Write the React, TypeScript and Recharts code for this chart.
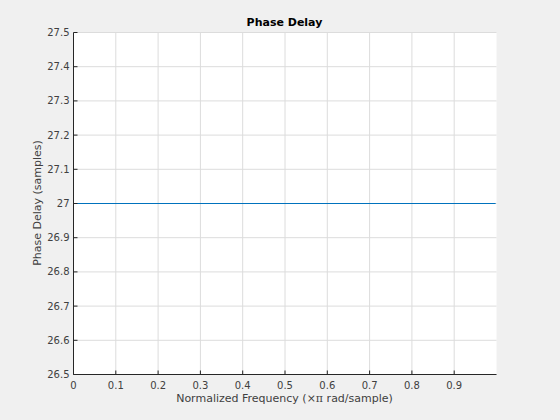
import React from "react";
import {
  LineChart, Line, XAxis, YAxis, CartesianGrid,
} from "recharts";

// normalized frequency (x pi rad/sample) and phase delay (samples)
const freq = [0, 0.998];
const phaseDelay = [27, 27];

const xTicks = [0, 0.1, 0.2, 0.3, 0.4, 0.5, 0.6, 0.7, 0.8, 0.9];
const yTicks = [26.5, 26.6, 26.7, 26.8, 26.9, 27, 27.1, 27.2, 27.3, 27.4, 27.5];

const AXIS = "#262626";
const TEXT = "#404040";
const FONT = "'DejaVu Sans', sans-serif";

const XTickBottom = ({ x, y, payload }: any) => (
  <g>
    <line x1={x} x2={x} y1={y} y2={y - 4} stroke={AXIS} />
    <text x={x} y={y + 14} textAnchor="middle" fontSize={10} fontFamily={FONT} fill={TEXT}>
      {String(payload.value)}
    </text>
  </g>
);

const XTickTop = ({ x, y }: any) => <line x1={x} x2={x} y1={y} y2={y + 4} stroke={AXIS} />;

const YTickLeft = ({ x, y, payload }: any) => (
  <g>
    <line x1={x} x2={x + 4} y1={y} y2={y} stroke={AXIS} />
    <text x={x - 4} y={y + 3.5} textAnchor="end" fontSize={10} fontFamily={FONT} fill={TEXT}>
      {String(payload.value)}
    </text>
  </g>
);

const YTickRight = ({ x, y }: any) => <line x1={x} x2={x - 4} y1={y} y2={y} stroke={AXIS} />;

export default function App() {
  const data = freq.map((f, i) => ({ f, d: phaseDelay[i] }));

  return (
    <div style={{ position: "fixed", inset: 0, background: "#f0f0f0", fontFamily: FONT }}>
      <div style={{ position: "absolute", left: 0, top: 0, width: 560, height: 420 }}>
        <LineChart width={560} height={420} data={data} margin={{ top: 32.5, right: 63.5, bottom: 0, left: 0 }}>
          <CartesianGrid stroke="#dcdcdc" fill="#ffffff" horizontalValues={yTicks} verticalValues={xTicks} />
          <XAxis
            dataKey="f" type="number" domain={[0, 1]} ticks={xTicks} height={45.5}
            tickSize={0} tickMargin={0} tick={<XTickBottom />} stroke={AXIS} interval={0}
          />
          <XAxis
            xAxisId="t" dataKey="f" type="number" orientation="top" domain={[0, 1]} ticks={xTicks}
            height={0} tickSize={0} tickMargin={0} tick={<XTickTop />} stroke={AXIS} interval={0}
          />
          <YAxis
            type="number" domain={[26.5, 27.5]} ticks={yTicks} width={73.5}
            tickSize={0} tickMargin={0} tick={<YTickLeft />} stroke={AXIS} interval={0}
          />
          <YAxis
            yAxisId="r" type="number" orientation="right" domain={[26.5, 27.5]} ticks={yTicks}
            width={0} tickSize={0} tickMargin={0} tick={<YTickRight />} stroke={AXIS} interval={0}
          />
          <Line dataKey="d" stroke="#0072bd" strokeWidth={1} dot={false} isAnimationActive={false} />
        </LineChart>
        <div style={{ position: "absolute", left: 73, width: 423, top: 16, textAlign: "center", fontSize: 11, fontWeight: "bold", color: "#000" }}>
          Phase Delay
        </div>
        <div style={{ position: "absolute", left: 73, width: 423, top: 392, textAlign: "center", fontSize: 11, color: TEXT }}>
          Normalized Frequency (<span style={{ fontFamily: "'DejaVu Serif', serif", fontSize: 11 }}>×π</span> rad/sample)
        </div>
        <div style={{ position: "absolute", left: 37, top: 203, transform: "translate(-50%, -50%) rotate(-90deg)", whiteSpace: "nowrap", fontSize: 11, color: TEXT }}>
          Phase Delay (samples)
        </div>
      </div>
    </div>
  );
}
